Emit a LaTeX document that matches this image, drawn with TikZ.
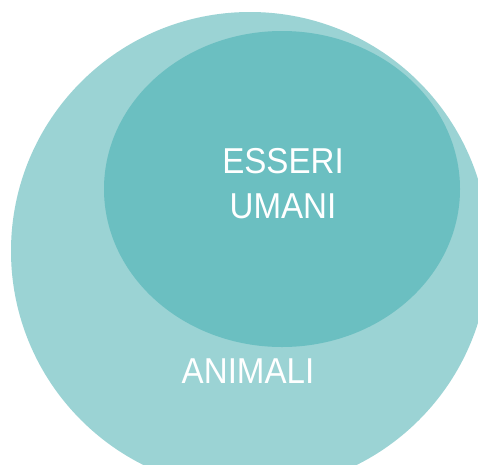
\documentclass[tikz,border=0pt]{standalone}
\usepackage{fontspec}
\setmainfont[FakeStretch=0.92]{Liberation Sans}
\definecolor{animalcol}{HTML}{9BD3D4}
\definecolor{umanicol}{HTML}{6BBFC1}
\begin{document}
\begin{tikzpicture}[x=1pt,y=-1pt]
    \clip (0,0) rectangle (478,464);
    \fill[white] (0,0) rectangle (478,464);

\fill[animalcol] (250,251) circle (239);
\fill[umanicol] (282,189) ellipse (178 and 158);

\node[white, font=\fontsize{36}{45}\selectfont, align=center, anchor=base] (umani) at (283,218) {ESSERI\\UMANI};

\node[white, font=\fontsize{36}{45}\selectfont, anchor=base] (animali) at (248,383) {ANIMALI};

\end{tikzpicture}
\end{document}
